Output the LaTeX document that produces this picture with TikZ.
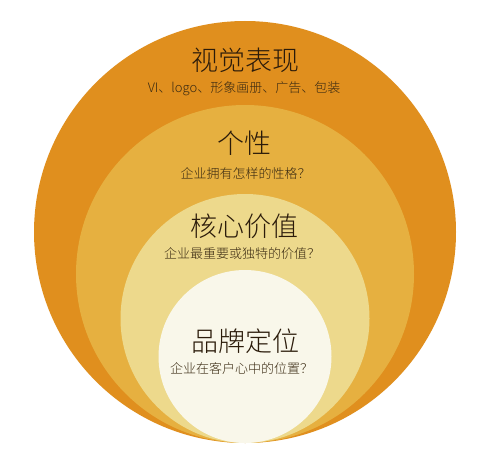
\documentclass[tikz,border=0pt]{standalone}
\usepackage{fontspec}
\setmainfont{Noto Sans CJK SC}
\newfontfamily\cjk{Noto Sans CJK SC Light}
\definecolor{ringA}{HTML}{E08F1E}
\definecolor{ringB}{HTML}{E6B040}
\definecolor{ringC}{HTML}{EDD98C}
\definecolor{ringD}{HTML}{F9F7EA}
\definecolor{txtdark}{HTML}{2B1B0A}
\definecolor{txtsub}{HTML}{3A2A12}
\tikzset{
  ring/.style={draw=none},
  title/.style={inner sep=0pt, text=txtdark, font=\cjk\fontsize{27}{27}\selectfont},
  subtitle/.style={inner sep=0pt, text=txtsub, font=\cjk\fontsize{13}{13}\selectfont}
}
\begin{document}
\begin{tikzpicture}[x=1pt,y=-1pt]
\useasboundingbox (0,0) rectangle (490,468);
\fill[white] (0,0) rectangle (490,468);
\fill[ring, ringA] (245,232) circle[radius=211];
\fill[ring, ringB] (245,274) circle[radius=169];
\fill[ring, ringC] (245,318.5) circle[radius=124.5];
\fill[ring, ringD] (245,356.5) circle[radius=86.5];
\node[title] (t1) at (245,60) {视觉表现};
\node[subtitle] (s1) at (244,89) {VI、logo、形象画册、广告、包装};
\node[title] (t2) at (244.5,143) {个性};
\node[subtitle] (s2) at (245.5,174) {企业拥有怎样的性格？};
\node[title] (t3) at (244,226) {核心价值};
\node[subtitle] (s3) at (242,254) {企业最重要或独特的价值？};
\node[title] (t4) at (245,341) {品牌定位};
\node[subtitle] (s4) at (241.5,369) {企业在客户心中的位置？};
\end{tikzpicture}
\end{document}
